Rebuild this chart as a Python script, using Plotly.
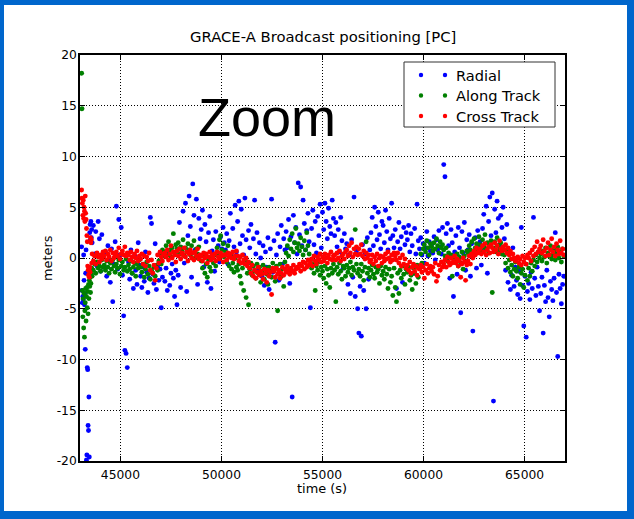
import plotly.graph_objects as go

# ---------------- data ----------------
early_times = [43080, 43100, 43120, 43140, 43160, 43180, 43200, 43220, 43240, 43260,
               43280, 43300, 43320, 43340, 43360, 43380, 43400, 43420, 43440, 43460,
               43480, 43500, 43520, 43540, 43560, 43580]
main_times = list(range(43600, 66941, 60))
times = early_times + main_times

radial = [
    1.1, -3.2, -4.4, -3.8, -4.1, 0.3, -2.2, -4.6, -3.5, -9.0, -1.5, 0.8, -19.9,
    -19.4, -10.8, -11.0, -16.5, -17.0, -13.7, -19.6, 2.5, 3.3, 1.8, 3.6, 2.0, 2.8,
    1.5, 3.2, 0.4, 2.6, -0.8, 3.6, 1.9, -1.3, 2.3, 0.2,
    -0.9, 0.6, -1.8, 1.2, -0.3, -2.4, 0.9, -4.3, -0.6, 1.6,
    5.1, -1.1, 3.8, 0.3, 3.0, -1.7, -5.7, -9.1, -9.4, -10.8,
    -0.4, -2.1, 0.8, -1.5, -3.0, 0.2, -1.2, -2.6, 1.5, -0.7,
    -1.8, -2.9, -0.9, -2.3, 0.6, -1.4, -3.4, -2.0, 4.0, 3.4,
    -1.6, -2.5, 1.4, -3.1, -0.8, -2.2, -1.1, -4.9, -1.9, 0.5,
    -2.3, -1.0, -3.2, 0.4, -2.7, -1.5, -0.6, -2.0, -3.8, -1.2,
    -4.6, -1.7, 3.5, -2.9, 1.0, 4.6, -0.5, 5.4, -3.3, 2.2,
    6.1, 3.1, -1.9, 7.3, 4.2, 0.8, 5.8, -2.6, 3.9, 1.9,
    2.8, 4.7, -0.9, 3.3, 1.6, -2.4, 2.5, 4.1, -3.0, 0.7,
    1.8, -1.3, 2.6, 0.5, 1.2, -0.4, 2.1, 0.9, 3.0, 1.5,
    0.8, 2.4, -0.6, 1.7, 4.4, 0.2, 2.9, 1.1, 5.2, 0.6,
    3.6, 5.6, 1.4, 4.8, 2.2, 0.3, 5.9, 1.8, -0.5, 2.7,
    1.0, 3.3, -0.8, 1.9, 5.7, 0.4, 2.5, -1.2, 1.5, 0.0,
    -1.8, 1.2, -2.7, 0.6, -0.9, 2.0, -3.1, 0.9, 5.8, -1.4,
    1.7, -8.3, 0.3, 2.4, -2.2, 1.1, 3.2, -0.6, 1.9, 0.8,
    2.6, 1.0, 3.8, -2.5, 2.1, -13.7, 4.2, 1.5, 3.0, 0.4,
    7.4, 2.3, 7.0, 1.2, 5.7, 3.4, 0.8, 2.7, 4.4, 1.6,
    -4.9, 2.9, 4.7, 1.3, 3.6, 0.5, 4.1, 2.2, 5.3, 1.0,
    4.5, 2.8, 5.4, 3.6, 1.9, 4.9, 3.1, 2.4, 5.7, 3.9,
    2.2, 3.5, 1.1, 2.8, 0.6, 4.0, 1.7, -1.0, 2.4, 0.9,
    1.4, -2.6, 0.3, -3.5, 1.8, -1.9, 6.0, -3.8, 0.7, -5.0,
    -7.4, -2.8, -7.7, 1.3, -3.2, 0.4, -5.0, 2.0, -2.1, 0.8,
    2.5, 4.0, 1.2, 5.0, 3.1, 1.8, 4.5, 2.3, 0.9, 3.6,
    3.2, 1.5, 4.7, 2.6, 0.8, 3.9, 1.9, 5.4, 2.2, 1.0,
    2.8, -3.0, 1.6, 3.5, 0.9, 2.1, -2.4, 3.0, 1.3, 2.5,
    1.8, 3.2, 0.6, 2.4, 1.2, -1.5, 2.9, 0.4, 5.3, 1.7,
    0.9, 2.0, 0.3, 1.4, -0.5, 1.0, 2.6, 0.2, 1.6, 0.7,
    1.3, 0.5, 2.1, -0.2, 1.8, 0.8, 2.7, 1.1, 0.4, 3.0,
    9.2, 8.0, 2.4, 3.4, 1.2, -2.0, 2.8, 1.5, -3.8, 0.6,
    2.2, -1.6, 3.0, 1.0, -5.4, 2.6, 0.5, 3.5, -1.2, 1.8,
    0.8, 2.3, -1.8, 1.4, -7.2, 0.3, 2.0, -1.0, 2.7, 1.1,
    1.6, -0.7, 2.9, 4.3, 0.9, 5.1, -1.5, 3.6, 6.0, 2.2,
    6.4, -14.1, 4.8, 2.5, 5.6, 3.9, 1.3, 4.2, 3.0, 5.0,
    1.9, -1.2, 3.3, -2.4, 0.6, -3.1, -1.7, 1.0, -2.8, -0.9,
    -2.2, -3.6, -1.3, -4.0, 3.0, -2.7, -6.7, -1.8, -7.8, -3.3,
    -2.5, -4.1, -1.4, -3.0, 4.0, -2.0, -3.7, -0.9, -2.8, -5.2,
    -3.5, -1.9, -7.4, -2.7, -4.3, -1.2, -3.9, -5.8, -2.3, -3.1,
    -4.2, -2.0, 2.5, -3.4, -9.7, -1.6, -3.0, -4.5, -2.6, -1.8,
]

along_track = [
    18.2, 14.7, -3.2, -5.8, -4.0, -6.9, -3.5, -7.8, -5.2, -4.4, -3.0, -6.2, -3.8,
    -2.9, -4.9, -3.3, -5.5, -2.6, -4.0, -2.2, -2.8, -1.9, -3.4, -2.5, -1.5, -1.0,
    -1.8, -1.2, -0.6, -1.5, -0.4, -1.0, -0.8, -1.3, -0.2, -0.9,
    -0.7, -1.2, -0.3, -0.9, -1.5, -0.5, -1.1, -0.2, -0.8, -1.4,
    -0.6, -1.0, -0.2, -1.6, -0.8, -0.4, -1.2, -0.9, -0.1, -1.3,
    -0.7, -1.1, -0.3, -1.5, -0.9, -0.5, -1.8, -0.6, -1.0, -0.2,
    -0.9, -1.4, -0.6, -1.9, -1.1, -0.4, -1.6, -0.8, -2.1, -1.2,
    -1.5, -0.9, -1.8, -0.7, -1.2, -0.3, 0.4, -0.6, 0.8, 0.2,
    0.6, 1.2, 0.3, 1.6, 0.8, 0.1, 1.0, 2.4, 0.5, 1.3,
    0.9, 1.5, 0.4, 1.1, 0.7, 1.8, 0.2, 1.0, 0.6, 1.4,
    0.8, 0.3, 1.2, 0.5, 1.7, 0.0, 0.9, 0.4, 1.1, 0.2,
    -0.3, -1.0, 0.2, -1.5, -0.6, -1.9, -0.2, -0.9, -1.3, 0.1,
    -0.5, 0.3, -0.8, 1.0, 0.5, 1.8, 2.2, 0.8, 1.4, 0.1,
    0.6, -0.4, 1.2, -0.8, 0.3, -1.1, -0.5, -1.4, 0.0, -0.9,
    -1.2, -0.6, -1.8, -2.5, -1.0, -3.2, -0.4, -3.9, -1.5, -4.6,
    -1.1, -0.5, -1.7, -0.8, -1.3, -2.0, -0.6, -1.5, -0.9, -2.4,
    -1.4, -0.7, -2.1, -1.0, -1.6, -2.6, -0.9, -1.3, -1.9, -0.5,
    -1.2, -2.3, -0.8, -5.2, -1.5, -0.6, -1.8, -1.1, -2.8, -0.4,
    0.5, 1.2, 0.2, 1.8, 0.9, 2.4, 0.6, 1.5, 2.9, 1.0,
    1.4, 0.7, 2.0, 1.1, 0.3, 1.7, 0.8, 2.5, 1.2, 0.4,
    -0.3, -1.0, -0.6, -1.5, -3.2, -0.8, -1.2, -0.4, -1.7, -0.9,
    -1.3, -2.0, -0.8, -2.5, -1.1, -1.7, -2.9, -1.0, -1.5, -0.6,
    -1.2, -4.3, -0.9, -1.6, -0.5, -1.3, -2.1, -0.8, -1.0, -1.8,
    -0.7, -1.4, -1.0, -0.4, -1.7, -0.9, -1.2, 2.8, -0.6, -1.5,
    -1.1, -1.8, -0.6, -1.3, -2.2, -0.9, 1.6, -1.5, -1.0, -1.9,
    -1.2, -0.7, -1.6, -2.0, -0.9, -1.4, -1.1, -2.5, -0.8, -1.7,
    -1.3, -2.1, -0.9, -1.6, -3.0, -1.1, -2.4, -1.8, -3.7, -1.0,
    -2.9, -4.3, -1.5, -3.5, -1.2, -2.0, -0.8, -1.6, -2.6, -1.1,
    -1.4, -0.9, -2.2, -1.7, -3.1, -1.0, -1.5, -2.5, -0.7, -1.9,
    -1.0, 0.4, -0.5, 0.9, 1.3, 0.6, 1.7, 1.0, 0.3, 1.4,
    1.1, 0.7, 1.5, 0.9, 1.9, 1.2, 0.5, 1.6, 1.0, 1.3,
    0.8, 0.2, 1.0, -0.3, 0.5, -0.6, 0.3, -1.8, 0.0, -0.4,
    -0.2, 0.4, -0.8, 0.1, -0.5, 0.6, -1.1, 0.2, -0.3, 0.7,
    0.5, 1.2, 0.8, 1.6, 0.3, 1.9, 1.0, 1.4, 0.6, 2.1,
    1.3, 0.7, 1.8, 1.1, 2.3, 0.9, 1.5, 0.5, 1.2, 1.7,
    -3.4, 1.0, 1.6, 0.6, 2.0, 1.2, 0.8, 1.5, 0.4, 1.1,
    0.3, -0.5, 0.8, -1.0, -0.2, -1.4, -0.7, -1.8, -1.1, -0.4,
    -1.3, -2.0, -0.9, -2.6, -1.5, -1.1, -2.9, -1.7, -0.6, -2.2,
    -1.0, -1.8, -0.5, -1.3, -0.2, -0.8, 0.3, -0.4, 0.6, 0.0,
    0.4, -0.3, 0.7, 0.1, 1.0, -0.5, 0.5, 0.2, 1.2, -0.1,
    0.3, 0.8, -0.2, 0.5, 1.1, 0.0, 0.6, -0.4, 0.9, 0.2,
]

cross_track = [
    6.7, 5.9, 5.4, 4.2, 5.7, 3.9, 5.0, 4.6, 3.6, 6.1, 4.4, 3.8, 2.9, 2.2, 1.6,
    -0.8, -1.2, -1.7, -1.1, -1.9, -0.9, -1.4, 2.0, 1.5, 1.8, -0.5,
    0.4, -0.3, 0.2, -0.6, 0.5, 0.1, -0.4, 0.3, -0.1, 0.6,
    0.2, 0.7, -0.2, 0.4, 0.1, 0.8, -0.3, 0.5, 0.0, 0.3,
    0.6, 0.2, 1.0, -0.1, 0.4, 0.7, 0.3, 1.1, 0.2, 0.5,
    0.3, -0.2, 0.6, 0.1, -0.4, 0.4, 0.0, 0.7, -0.3, 0.2,
    -0.1, 0.4, -0.6, 0.2, -0.8, 0.1, -0.3, 0.5, -1.2, -0.2,
    -1.5, -0.7, -2.2, -1.0, 0.3, -0.5, 0.6, 0.1, -0.3, 0.4,
    0.5, 0.1, 0.8, -0.2, 0.4, 1.2, 0.0, 0.6, 0.3, -0.4,
    0.7, 0.2, 0.9, -0.1, 0.5, 0.3, 1.0, 0.1, 0.6, -0.3,
    0.4, 0.8, 0.0, 0.5, -0.2, 0.6, 0.2, 0.9, -0.1, 0.3,
    0.2, -0.3, 0.5, 0.0, 0.4, -0.5, 0.1, 0.6, -0.2, 0.3,
    0.0, 0.4, -0.3, 0.6, 0.1, -0.1, 0.5, 0.2, -0.4, 0.3,
    0.3, -0.2, 0.5, 0.1, 0.4, 0.0, 0.6, -0.1, 0.2, 0.7,
    0.2, -0.3, 0.1, -0.5, 0.3, -0.2, -0.6, 0.0, -0.8, -0.4,
    -1.0, -1.5, -0.7, -1.8, -1.2, -2.0, -1.4, -0.9, -1.7, -1.3,
    -1.6, -2.1, -1.1, -1.5, -2.4, -1.2, -1.8, -1.4, -3.6, -1.0,
    -1.3, -1.9, -1.0, -1.6, -1.2, -2.0, -1.5, -0.9, -1.7, -1.1,
    -1.4, -0.8, -1.2, -1.6, -1.0, -1.3, -0.7, -1.5, -1.1, -0.9,
    -1.0, -0.6, -1.3, -0.8, -0.4, -1.1, -0.5, -0.9, -0.2, -0.7,
    -0.5, -0.1, -0.8, 0.2, -0.3, -0.6, 0.1, -0.2, 0.4, -0.4,
    0.1, -0.3, 0.4, 0.0, -0.5, 0.3, -0.1, 0.6, -0.2, 0.2,
    0.3, -0.2, 0.5, 0.0, 0.7, -0.3, 0.2, 0.4, -0.1, 0.6,
    0.8, 0.2, 1.2, 0.5, 1.5, 0.1, 0.9, 0.4, 1.1, 0.3,
    0.9, 0.4, 1.3, 0.2, 0.7, -0.1, 0.5, 0.0, 0.3, -0.4,
    -0.2, 0.3, -0.6, 0.1, -0.3, 0.4, -0.8, 0.0, 0.2, -0.5,
    0.1, -0.3, 0.4, -0.1, 0.6, 0.0, -0.4, 0.3, -0.2, 0.5,
    0.2, -0.2, 0.5, -0.5, 0.0, -0.8, 0.3, -0.6, -0.1, -1.0,
    -0.7, -1.2, -0.4, -1.5, -0.9, -0.6, -1.3, -0.8, -1.7, -1.0,
    -1.1, -0.7, -1.4, -0.9, -2.0, -1.2, -0.6, -1.5, -1.0, -0.8,
    -1.3, -0.9, -1.6, -0.5, -2.3, -1.8, -0.7, -1.2, -0.4, -0.9,
    -0.6, -0.2, -0.9, 0.1, -0.4, -0.7, 0.0, -0.5, -0.3, 0.2,
    -0.5, -0.1, -0.8, -0.3, -1.9, -0.6, 0.0, -0.4, -2.2, -0.7,
    -0.3, 0.2, -0.6, 0.4, 0.0, 0.7, 0.3, 1.0, 0.5, 0.8,
    0.9, 0.4, 1.2, 0.6, 1.4, 0.3, 0.8, 1.1, 0.5, 1.3,
    1.0, 0.6, 1.5, 0.8, 1.2, 0.4, 1.7, 0.9, 0.7, 1.1,
    0.8, 1.3, 0.5, 1.0, 0.3, 0.7, -0.1, 0.4, 0.0, -0.3,
    -0.2, 0.1, -0.5, -0.1, -0.7, 0.2, -0.4, 0.0, -0.6, 0.3,
    0.0, 0.5, -0.3, 0.8, 0.2, 1.1, 0.4, 1.6, 0.6, 0.9,
    1.2, 0.5, 1.8, 0.7, 0.2, 1.0, 1.5, 0.3, 0.8, 1.9,
    0.6, 1.1, 0.2, 1.4, 0.8, 0.4, 1.7, 0.5, 0.9, 0.3,
]

series_names = ["Radial", "Along Track", "Cross Track"]
series_colors = ["#0000ff", "#008000", "#ff0000"]
x_tick_vals = [45000, 50000, 55000, 60000, 65000]
x_tick_text = ["45000", "50000", "55000", "60000", "65000"]
y_tick_vals = [-20, -15, -10, -5, 0, 5, 10, 15, 20]
y_tick_text = ["-20", "-15", "-10", "-5", "0", "5", "10", "15", "20"]
title_text = "GRACE-A Broadcast positioning [PC]"
x_label = "time (s)"
y_label = "meters"
overlay_text = "Zoom"

for s in (radial, along_track, cross_track):
    assert len(s) == len(times), (len(s), len(times))

# ---------------- geometry helpers (pixel -> paper) ----------------
W, H = 634, 519
L, R, T, B = 80, 565, 55, 461
PW, PH = R - L, B - T


def px(x):
    return (x - L) / PW


def py(y):
    return (B - y) / PH


FONT = "DejaVu Sans"

fig = go.Figure()
for name, color, vals in zip(series_names, series_colors,
                             [radial, along_track, cross_track]):
    fig.add_trace(go.Scatter(
        x=times, y=vals, mode="markers", name=name, showlegend=False,
        marker=dict(color=color, size=4.9, line=dict(width=0)),
    ))

axis_common = dict(
    showline=True, linecolor="black", linewidth=1.5, mirror="ticks",
    ticks="inside", ticklen=5, tickwidth=1, tickcolor="black",
    showgrid=True, gridcolor="black", gridwidth=1, griddash="1px,2px",
    zeroline=False,
    tickfont=dict(family=FONT, size=12.3, color="black"),
)

fig.update_xaxes(range=[43000, 67000], tickmode="array",
                 tickvals=x_tick_vals, ticktext=x_tick_text,
                 ticklabelstandoff=1, **axis_common)
fig.update_yaxes(range=[-20, 20], tickmode="array",
                 tickvals=y_tick_vals, ticktext=y_tick_text,
                 ticklabelstandoff=-1, **axis_common)

shapes = []
# blue outer frame
blue = "#0066cc"
for (x0, y0, x1, y1) in [(0, 0, 4, H), (627, 0, W, H), (0, 0, W, 5), (0, 511, W, H)]:
    shapes.append(dict(type="rect", xref="paper", yref="paper",
                       x0=px(x0), x1=px(x1), y0=py(y0), y1=py(y1),
                       fillcolor=blue, line=dict(width=0), layer="above"))
# legend box
shapes.append(dict(type="rect", xref="paper", yref="paper",
                   x0=px(404), x1=px(555), y0=py(127), y1=py(62),
                   fillcolor="white", line=dict(color="#333333", width=1),
                   layer="above"))
row_y = [75, 95.5, 116]
for color, yy in zip(series_colors, row_y):
    for xx in (421, 445):
        shapes.append(dict(type="circle", xref="paper", yref="paper",
                           x0=px(xx - 2.2), x1=px(xx + 2.2),
                           y0=py(yy + 2.2), y1=py(yy - 2.2),
                           fillcolor=color, line=dict(width=0), layer="above"))

annotations = [
    dict(text=title_text, x=px(323), y=py(36.5), xref="paper", yref="paper",
         showarrow=False, xanchor="center", yanchor="middle",
         font=dict(family=FONT, size=14.8, color="black")),
    dict(text=x_label, x=px(322), y=py(488), xref="paper", yref="paper",
         showarrow=False, xanchor="center", yanchor="middle",
         font=dict(family=FONT, size=12.9, color="black")),
    dict(text=y_label, x=px(47), y=py(258), xref="paper", yref="paper",
         showarrow=False, xanchor="center", yanchor="middle", textangle=-90,
         font=dict(family=FONT, size=12.9, color="black")),
    dict(text=overlay_text, x=px(267), y=py(117), xref="paper", yref="paper",
         showarrow=False, xanchor="center", yanchor="middle",
         font=dict(family="Liberation Sans", size=54, color="black")),
]
for name, yy in zip(series_names, row_y):
    annotations.append(dict(text=name, x=px(454), y=py(yy), xref="paper",
                            yref="paper", showarrow=False, xanchor="left",
                            yanchor="middle",
                            font=dict(family=FONT, size=14.6, color="black")))

fig.update_layout(
    width=W, height=H,
    margin=dict(l=L, r=W - R, t=T, b=H - B, pad=0),
    paper_bgcolor="white", plot_bgcolor="white",
    shapes=shapes, annotations=annotations, showlegend=False,
)

fig.write_html(
    "out.html",
    config={"displayModeBar": False},
    post_script="document.body.style.margin='0px';"
                "document.body.style.padding='0px';"
                "document.body.style.overflow='hidden';",
)
